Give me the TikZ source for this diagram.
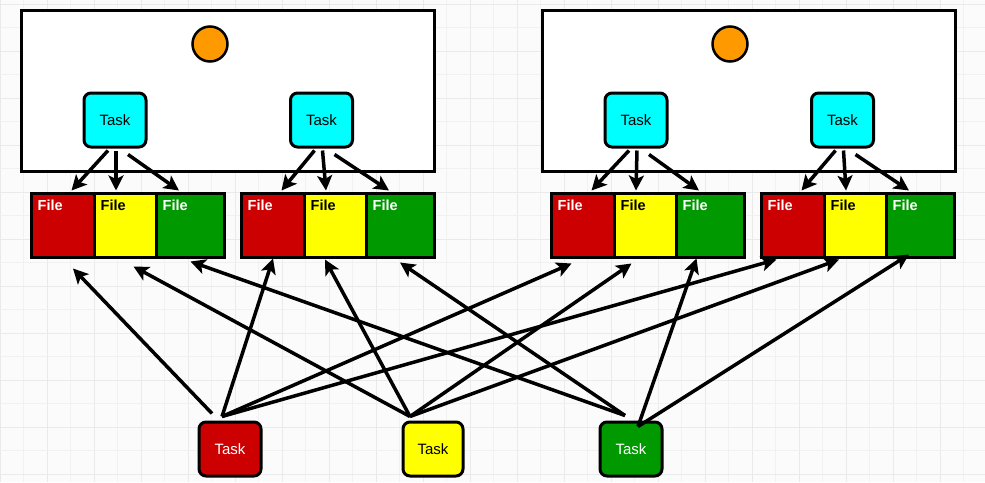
\documentclass[tikz,border=0pt]{standalone}
\usepackage{fontspec}
\setmainfont{Liberation Sans}
\usetikzlibrary{arrows.meta,calc}
\definecolor{fred}{HTML}{CC0000}
\definecolor{fyel}{HTML}{FFFF00}
\definecolor{fgrn}{HTML}{009900}
\definecolor{tcyan}{HTML}{00FFFF}
\definecolor{dorange}{HTML}{FF9900}
\definecolor{gridminor}{HTML}{F1F1F1}
\definecolor{gridmajor}{HTML}{EAEAEA}
\definecolor{bgc}{HTML}{FBFBFB}
\begin{document}
\begin{tikzpicture}[x=1pt,y=-1pt,
  outline/.style={draw=black, line width=3pt},
  bigbox/.style={outline, fill=white, minimum width=413pt, minimum height=161pt, inner sep=0pt},
  dot/.style={circle, draw=black, line width=2.5pt, fill=dorange, minimum size=35pt, inner sep=0pt},
  taskbox/.style={outline, rounded corners=7pt, minimum width=62pt, minimum height=54pt, inner sep=0pt, font=\fontsize{15}{17}\selectfont},
  filebox/.style={outline, minimum height=64pt, inner sep=0pt},
  filetext/.style={anchor=north west, inner sep=0pt, xshift=8pt, yshift=-8pt, font=\bfseries\fontsize{14.5}{16}\selectfont},
  flow/.style={line width=3.5pt, -{Stealth[length=15pt,width=15pt,inset=3.5pt]}},
]
\useasboundingbox (0,0) rectangle (985,482);
% background and grid
\fill[bgc] (0,0) rectangle (985,482);
\begin{scope}
\clip (0,0) rectangle (985,482);
\foreach \i in {0,...,20} {
  \draw[gridminor, line width=0.8pt] (\i*47+23.5,0) -- (\i*47+23.5,482);
  \draw[gridmajor, line width=1pt] (\i*47,0) -- (\i*47,482);
}
\foreach \j in {0,...,10} {
  \draw[gridminor, line width=0.8pt] (0,\j*47+27.5) -- (985,\j*47+27.5);
  \draw[gridmajor, line width=1pt] (0,\j*47+4) -- (985,\j*47+4);
}
\end{scope}

% containers
\node[bigbox] (BL) at (227.5,90.5) {};
\node[bigbox] (BR) at (748.5,90.5) {};
\node[dot] (DL) at (210,44) {};
\node[dot] (DR) at (730,44) {};

% task groups with files
\foreach \gp/\tx/\fx in {L1/115/31, L2/321.5/241, R1/636/551, R2/842.5/761} {
  \node[taskbox, fill=tcyan] (T\gp) at (\tx,120) {Task};
  \node[filebox, fill=fred, minimum width=63pt,
        label={[filetext, text=white]north west:File}] (\gp r) at (\fx+31.5,225) {};
  \node[filebox, fill=fyel, minimum width=62pt,
        label={[filetext, text=black]north west:File}] (\gp y) at (\fx+94,225) {};
  \node[filebox, fill=fgrn, minimum width=68pt,
        label={[filetext, text=white]north west:File}] (\gp g) at (\fx+159,225) {};
  \draw[flow] ($(T\gp.south)+(-7,2)$) -- ($(\gp r.north)+(9,-1)$);
  \draw[flow] ($(T\gp.south)+(1,2)$) -- ($(\gp y.north)+(-9,-1)$);
  \draw[flow] ($(T\gp.south)+(13,6)$) -- ($(\gp g.north)+(-11,-1)$);
}

% bottom tasks
\node[taskbox, fill=fred, text=white] (Br) at (230,449) {Task};
\node[taskbox, fill=fyel, minimum width=60pt] (By) at (433,449) {Task};
\node[taskbox, fill=fgrn, text=white] (Bg) at (631,449) {Task};

% red task -> red files
\draw[flow] ($(Br.north)+(-18,-7)$) -- ($(L1r.south)+(10.5,10)$);
\draw[flow] ($(Br.north)+(-8,-4)$) -- ($(L2r.south)+(0.5,0)$);
\draw[flow] ($(Br.north)+(-8,-4)$) -- ($(R1r.south)+(-11,5)$);
\draw[flow] ($(Br.north)+(-8,-4)$) -- ($(R2r.south)+(-16,1)$);
% yellow task -> yellow files
\draw[flow] ($(By.north)+(-23,-4)$) -- ($(L1y.south)+(8.5,8)$);
\draw[flow] ($(By.north)+(-23,-4)$) -- ($(L2y.south)+(-10,1)$);
\draw[flow] ($(By.north)+(-23,-4)$) -- ($(R1y.south)+(-13.5,5)$);
\draw[flow] ($(By.north)+(-23,-4)$) -- ($(R2y.south)+(-16,1)$);
% green task -> green files
\draw[flow] ($(Bg.north)+(-6,-5)$) -- ($(L1g.south)+(0.5,3)$);
\draw[flow] ($(Bg.north)+(-6,-5)$) -- ($(L2g.south)+(0,4)$);
\draw[flow] ($(Bg.north)+(7,6)$) -- ($(R1g.south)+(-13.5,0)$);
\draw[flow] ($(Bg.north)+(7,6)$) -- ($(R2g.south)+(-11,-4)$);
\end{tikzpicture}
\end{document}
